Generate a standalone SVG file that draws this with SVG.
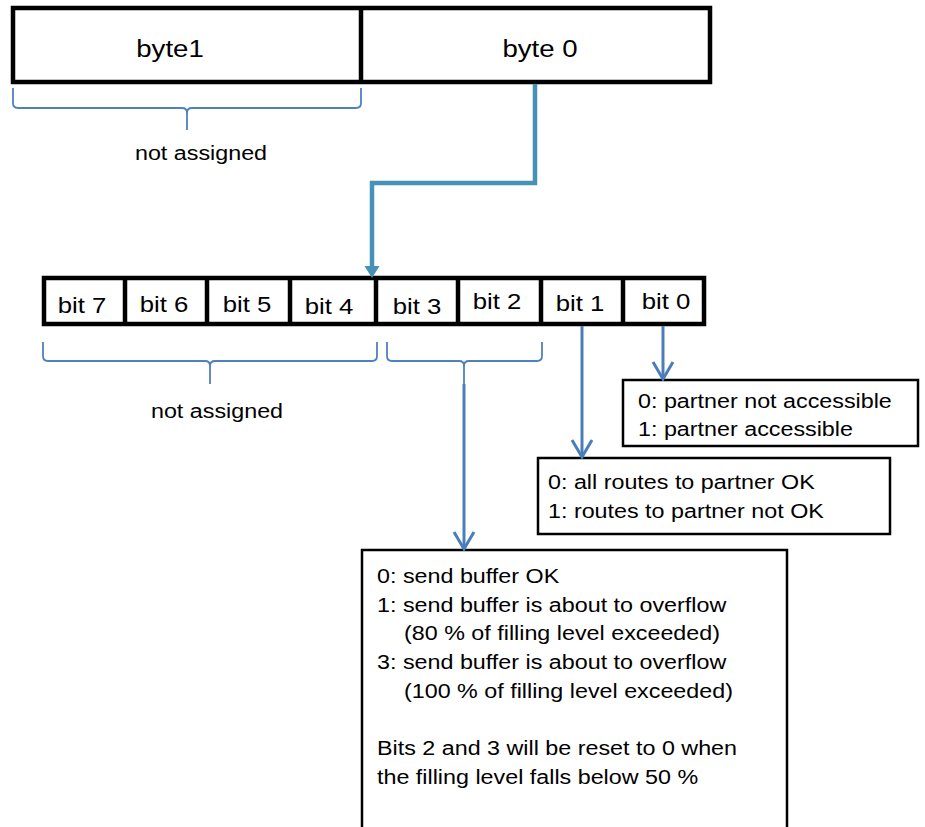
<svg xmlns="http://www.w3.org/2000/svg" width="925" height="827" viewBox="0 0 925 827">
<style>
  text { font-family: "Liberation Sans", Arial, sans-serif; font-size: 21px; fill: #000; }
  .bitlbl { font-size: 22px; text-anchor: middle; }
  .bytelbl { font-size: 24px; text-anchor: middle; }
  .mid { text-anchor: middle; }
  .thick { fill: #fff; stroke: #000; stroke-width: 4.5; }
  .div { stroke: #000; stroke-width: 4.5; fill: none; }
  .box { fill: #fff; stroke: #000; stroke-width: 2.5; }
  .brace { fill: none; stroke: #4F81BD; stroke-width: 1.8; stroke-linejoin: round; }
  .arrow { fill: none; stroke: #4A7EBB; stroke-width: 3; marker-end: url(#chev); }
  .conn { fill: none; stroke: #4592B6; stroke-width: 4.5; stroke-linejoin: miter; }
</style>
<defs>
  <marker id="chev" markerUnits="userSpaceOnUse" viewBox="-20 -12 22 24" refX="0" refY="0" markerWidth="22" markerHeight="24" orient="auto">
    <path d="M-17,-10 L0,0 L-17,10" fill="none" stroke="#4A7EBB" stroke-width="3"/>
  </marker>
</defs>

<g id="bytes">
  <rect class="thick" x="13" y="8" width="697" height="74"/>
  <line class="div" x1="361" y1="8" x2="361" y2="82"/>
  <text class="bytelbl" transform="translate(170,57) scale(1.15,1)">byte1</text>
  <text class="bytelbl" transform="translate(540,57) scale(1.15,1)">byte 0</text>
</g>

<g id="bits">
  <rect class="thick" x="44" y="278" width="660" height="46"/>
  <line class="div" x1="125" y1="278" x2="125" y2="324"/>
  <line class="div" x1="207" y1="278" x2="207" y2="324"/>
  <line class="div" x1="290" y1="278" x2="290" y2="324"/>
  <line class="div" x1="376" y1="278" x2="376" y2="324"/>
  <line class="div" x1="458" y1="278" x2="458" y2="324"/>
  <line class="div" x1="541" y1="278" x2="541" y2="324"/>
  <line class="div" x1="623" y1="278" x2="623" y2="324"/>
  <text class="bitlbl" transform="translate(82,313) scale(1.17,1)">bit 7</text>
  <text class="bitlbl" transform="translate(164,312) scale(1.17,1)">bit 6</text>
  <text class="bitlbl" transform="translate(247,312) scale(1.17,1)">bit 5</text>
  <text class="bitlbl" transform="translate(329,314) scale(1.17,1)">bit 4</text>
  <text class="bitlbl" transform="translate(417,314) scale(1.17,1)">bit 3</text>
  <text class="bitlbl" transform="translate(497,309) scale(1.17,1)">bit 2</text>
  <text class="bitlbl" transform="translate(580,311) scale(1.17,1)">bit 1</text>
  <text class="bitlbl" transform="translate(666,309) scale(1.17,1)">bit 0</text>
</g>

<g id="brace-byte1">
  <path class="brace" d="M13,88 V103 Q13,108 18,108 H182 Q187,108 187,113 V130 M187,113 Q187,108 192,108 H356 Q361,108 361,103 V88"/>
  <text class="mid" transform="translate(201,160) scale(1.11,1)">not assigned</text>
</g>

<g id="brace-bits74">
  <path class="brace" d="M43,342 V356 Q43,361 48,361 H205 Q210,361 210,366 V384 M210,366 Q210,361 215,361 H372 Q377,361 377,356 V342"/>
  <text class="mid" transform="translate(217,418) scale(1.11,1)">not assigned</text>
</g>

<g id="brace-bits32">
  <path class="brace" d="M387,342 V356 Q387,361 392,361 H459 Q464,361 464,366 V384 M464,366 Q464,361 469,361 H537 Q542,361 542,356 V342"/>
</g>

<g id="box-bit0">
  <rect class="box" x="623" y="380" width="295" height="66"/>
  <text transform="translate(638,408) scale(1.11,1)">0: partner not accessible</text>
  <text transform="translate(638,436) scale(1.11,1)">1: partner accessible</text>
</g>

<g id="box-bit1">
  <rect class="box" x="538" y="458" width="352" height="76"/>
  <text transform="translate(548,489) scale(1.11,1)">0: all routes to partner OK</text>
  <text transform="translate(548,518) scale(1.11,1)">1: routes to partner not OK</text>
</g>

<g id="box-bits32">
  <rect class="box" x="362" y="550" width="425" height="290"/>
  <text transform="translate(377,583) scale(1.11,1)">0: send buffer OK</text>
  <text transform="translate(377,612) scale(1.11,1)">1: send buffer is about to overflow</text>
  <text transform="translate(404,640) scale(1.11,1)">(80 % of filling level exceeded)</text>
  <text transform="translate(377,669) scale(1.11,1)">3: send buffer is about to overflow</text>
  <text transform="translate(404,698) scale(1.11,1)">(100 % of filling level exceeded)</text>
  <text transform="translate(377,755) scale(1.11,1)">Bits 2 and 3 will be reset to 0 when</text>
  <text transform="translate(377,784) scale(1.11,1)">the filling level falls below 50 %</text>
</g>

<g id="connectors">
  <path class="conn" d="M535,84 V183 H372 V266" />
  <path d="M364.5,266 L379.5,266 L372,278 Z" fill="#4592B6"/>
  <path class="arrow" d="M663,326 V379"/>
  <path class="arrow" d="M582,326 V457"/>
  <path class="arrow" d="M464,384 V549"/>
</g>
</svg>
